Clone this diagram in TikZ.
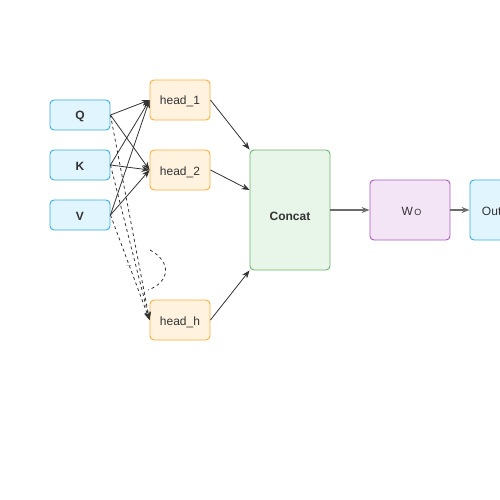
\documentclass[tikz,border=0pt]{standalone}
\usepackage{fontspec}
\setmainfont{Liberation Sans}
\usepackage{xcolor}
\usetikzlibrary{arrows.meta}

\definecolor{inblue}{HTML}{E1F5FE}
\definecolor{inbluedraw}{HTML}{3AAEE3}
\definecolor{headfill}{HTML}{FFF3E0}
\definecolor{headdraw}{HTML}{FFAD3B}
\definecolor{catfill}{HTML}{E8F5E9}
\definecolor{catdraw}{HTML}{6DB56F}
\definecolor{wofill}{HTML}{F3E5F5}
\definecolor{wodraw}{HTML}{A85BC0}
\definecolor{txt}{HTML}{333333}

\begin{document}
\begin{tikzpicture}[x=1pt,y=-1pt,
			box/.style={draw,rounded corners=4pt,line width=0.9pt,inner sep=0pt,text=txt,text height=10pt,text depth=0pt,font=\fontsize{12}{14}\selectfont},
			inbox/.style={box,fill=inblue,draw=inbluedraw,minimum width=60pt,minimum height=30pt,font=\fontsize{12}{14}\selectfont\bfseries},
			headbox/.style={box,fill=headfill,draw=headdraw,minimum width=60pt,minimum height=40pt},
			arr/.style={-{Stealth[length=8pt,width=6pt]},draw=txt,line width=0.8pt},
			darr/.style={arr,dashed}]
			\clip (0,0) rectangle (500,500);
			\node[inbox] (Q) at (80,115) {Q};
			\node[inbox] (K) at (80,165) {K};
			\node[inbox] (V) at (80,215) {V};
			\node[headbox] (H1) at (180,100) {head\_1};
			\node[headbox] (H2) at (180,170) {head\_2};
			\node[headbox] (Hh) at (180,320) {head\_h};
			\node[box,fill=catfill,draw=catdraw,minimum width=80pt,minimum height=120pt,text height=20pt,font=\fontsize{12}{14}\selectfont\bfseries] (C) at (290,210) {Concat};
			\node[box,fill=wofill,draw=wodraw,minimum width=80pt,minimum height=60pt] (W) at (410,210) {\kern3pt W\kern1.5pt{\fontsize{9}{10}\selectfont O}};
			\node[inbox,font=\fontsize{12}{14}\selectfont,minimum height=60pt] (O) at (500,210) {Output};
			% Q K V to the heads
			\foreach \s in {Q,K,V}{
				\draw[arr] (\s.east) -- (H1.west);
				\draw[arr] (\s.east) -- (H2.west);
				\draw[darr] (\s.east) -- (Hh.west);
			}
			\draw[dashed,draw=txt,line width=0.8pt] (150,250) .. controls (172,262) and (170,282) .. (148,290);
			\node[text=txt,font=\fontsize{7}{7}\selectfont,inner sep=0pt] (dots) at (129,266) {...};
			% heads to concat
			\draw[arr] (H1.east) -- (C.north west);
			\draw[arr] (H2.east) -- ([yshift=20pt]C.west);
			\draw[arr] (Hh.east) -- (C.south west);
			\draw[arr,draw=gray!85!black,line width=1.2pt] (C.east) -- (W.west);
			\draw[arr,draw=gray!85!black,line width=1.2pt] (W.east) -- (O.west);
		\end{tikzpicture}
\end{document}
